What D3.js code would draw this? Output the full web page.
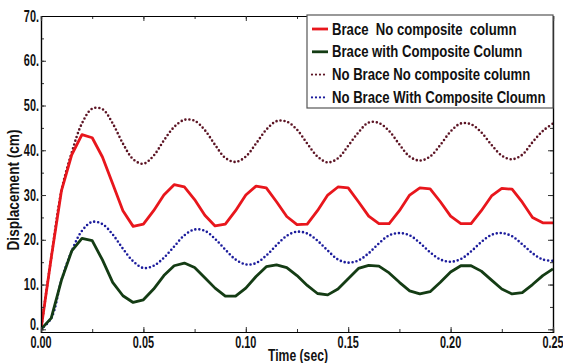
<!DOCTYPE html>
<html>
<head>
<meta charset="utf-8">
<script src="https://cdn.jsdelivr.net/npm/d3@7"></script>
<style>
  body { margin: 0; background: #fff; }
  svg { display: block; }
  text { font-family: "Liberation Sans", Arial, sans-serif; font-weight: bold; white-space: pre; }
</style>
</head>
<body>
<svg id="chart" width="563" height="363"></svg>
<script>
// time samples (sec), every 0.005
const times = d3.range(0, 51).map((i) => +(i * 0.005).toFixed(3));

const braceNoComposite = [0, 16, 31, 39, 43.5, 42.8, 38.5, 32.5, 26.5, 23, 23.5, 26.5, 30, 32.3, 31.8, 29, 25.5, 23.1, 23.5, 26.5, 30, 32, 31.6, 28.5, 25.2, 23.4, 23.5, 26.5, 30, 31.8, 31.6, 28.5, 25.3, 23.6, 23.6, 26.5, 30, 31.6, 31.4, 28.5, 25.3, 23.6, 23.6, 26.5, 29.8, 31.5, 31.3, 28.4, 25, 23.8, 23.8];
const braceComposite = [0, 2.5, 11, 17.5, 20.3, 19.8, 15.5, 10.5, 7.5, 6, 6.6, 9, 12, 14.2, 14.8, 13.8, 11.5, 9.2, 7.4, 7.4, 9.2, 11.8, 14, 14.4, 13.8, 12, 9.8, 8, 7.7, 9, 11.3, 13.6, 14.3, 14.1, 12.6, 10.5, 8.6, 7.9, 8.4, 10.5, 12.8, 14.2, 14.2, 13, 11, 9, 7.9, 8.2, 10, 12, 13.5];
const noBraceNoComposite = [0, 16, 31, 39.5, 46, 49.3, 49.2, 46, 41.5, 38, 37, 38.8, 42.2, 45.2, 46.8, 46.6, 44.5, 41.2, 38.3, 37.4, 38.6, 41.5, 44.6, 46.5, 46.4, 44.6, 41.5, 38.6, 37.3, 38.2, 41, 44, 46.2, 46.1, 44.3, 41.3, 38.6, 37.7, 38.6, 41.2, 44.2, 46, 45.8, 44, 41.2, 38.8, 38, 39, 41.8, 44.3, 46];
const noBraceComposite = [0, 2.5, 11, 17.5, 22, 24, 23.5, 21.2, 18, 15.2, 13.7, 14.2, 16, 18.5, 21, 22.3, 22, 20.2, 17.8, 15.6, 14.5, 14.8, 16.5, 18.8, 20.9, 21.8, 21.4, 19.8, 17.6, 15.6, 14.9, 15.4, 17, 19.2, 21, 21.5, 21, 19.3, 17.2, 15.6, 15.1, 15.7, 17.4, 19.5, 21.1, 21.5, 20.8, 19, 17, 15.6, 15.3];

const seriesNames = ['Brace  No composite  column', 'Brace with Composite Column', 'No Brace No composite column', 'No Brace With Composite Cloumn'];
const xTicks = [0, 0.05, 0.1, 0.15, 0.2, 0.25];
const yTicks = [0, 10, 20, 30, 40, 50, 60, 70];

// legend order follows seriesNames; draw order puts dotted lines underneath
const series = [
  { name: seriesNames[0], values: braceNoComposite, color: '#e8161c', dotted: false },
  { name: seriesNames[1], values: braceComposite, color: '#143c14', dotted: false },
  { name: seriesNames[2], values: noBraceNoComposite, color: '#5c1424', dotted: true },
  { name: seriesNames[3], values: noBraceComposite, color: '#1c1c9c', dotted: true }
];
const drawOrder = [2, 3, 0, 1];

const svg = d3.select('#chart');
const margin = { top: 16, right: 10, bottom: 31, left: 41 };
const width = 563, height = 363;
const innerW = width - margin.left - margin.right;
const innerH = height - margin.top - margin.bottom;

const x = d3.scaleLinear().domain([0, 0.25]).range([0, innerW]);
const y = d3.scaleLinear().domain([-0.6, 70]).range([innerH, 0]);

// squeeze bold text into a narrow look (no narrow font available)
function condense(sel, factor) {
  sel.each(function () {
    const w = this.getComputedTextLength();
    d3.select(this).attr('textLength', w * factor).attr('lengthAdjust', 'spacingAndGlyphs');
  });
}

const g = svg.append('g').attr('transform', `translate(${margin.left},${margin.top})`);

g.append('clipPath').attr('id', 'clip').append('rect')
  .attr('y', -2).attr('width', innerW).attr('height', innerH + 2);

const line = d3.line()
  .x((d, i) => x(times[i]))
  .y((d) => y(d));

const smooth = d3.line()
  .x((d, i) => x(times[i]))
  .y((d) => y(d))
  .curve(d3.curveCatmullRom);

g.append('g').attr('clip-path', 'url(#clip)')
  .selectAll('path')
  .data(drawOrder.map((k) => series[k]))
  .join('path')
  .attr('d', (d) => (d.dotted ? smooth(d.values) : line(d.values)))
  .attr('fill', 'none')
  .attr('stroke', (d) => d.color)
  .attr('stroke-width', (d) => (d.dotted ? 2.6 : 2.8))
  .attr('stroke-linecap', (d) => (d.dotted ? 'round' : 'butt'))
  .attr('stroke-linejoin', 'round')
  .attr('stroke-dasharray', (d) => (d.dotted ? '0,4' : null));

// frame + inward ticks
const yMinor = d3.range(0, 71, 5);
const xMinor = d3.range(0, 0.2501, 0.025);

function tickAxis(axis, tx, ty) {
  const a = g.append('g').attr('transform', `translate(${tx},${ty})`).call(axis);
  a.select('.domain').attr('stroke', '#000').attr('stroke-width', 1.2);
  a.selectAll('.tick line').attr('stroke', '#333');
  return a;
}

tickAxis(d3.axisLeft(y).tickValues(yMinor).tickSize(-3).tickFormat(''), 0, 0);
tickAxis(d3.axisRight(y).tickValues(yMinor).tickSize(-3).tickFormat(''), innerW, 0);
tickAxis(d3.axisBottom(x).tickValues(xMinor).tickSize(-3).tickFormat(''), 0, innerH);
tickAxis(d3.axisTop(x).tickValues(xMinor).tickSize(-3).tickFormat(''), 0, 0);
tickAxis(d3.axisLeft(y).tickValues(yTicks).tickSize(-5).tickFormat(''), 0, 0);
tickAxis(d3.axisRight(y).tickValues(yTicks).tickSize(-5).tickFormat(''), innerW, 0);
tickAxis(d3.axisBottom(x).tickValues(xTicks).tickSize(-5).tickFormat(''), 0, innerH);
tickAxis(d3.axisTop(x).tickValues(xTicks).tickSize(-5).tickFormat(''), 0, 0);

// tick labels
g.append('g').selectAll('text')
  .data(yTicks)
  .join('text')
  .attr('x', -2)
  .attr('y', (d) => Math.min(y(d), innerH - 8))
  .attr('dy', '0.35em')
  .attr('text-anchor', 'end')
  .attr('font-size', 16)
  .attr('fill', '#111')
  .text((d) => d3.format('d')(d) + '.')
  .call(condense, 0.68);

g.append('g').selectAll('text')
  .data(xTicks)
  .join('text')
  .attr('x', (d) => x(d))
  .attr('y', innerH + 16)
  .attr('text-anchor', 'middle')
  .attr('font-size', 16)
  .attr('fill', '#111')
  .text((d) => d3.format('.2f')(d))
  .call(condense, 0.68);

// axis titles
svg.append('text')
  .attr('transform', `translate(19,${margin.top + innerH / 2 + 16}) rotate(-90)`)
  .attr('text-anchor', 'middle')
  .attr('font-size', 17)
  .attr('fill', '#111')
  .text('Displacement (cm)')
  .call(condense, 0.8);

svg.append('text')
  .attr('x', 298)
  .attr('y', 361)
  .attr('text-anchor', 'middle')
  .attr('font-size', 16)
  .attr('fill', '#111')
  .text('Time (sec)')
  .call(condense, 0.76);

// legend
const legend = svg.append('g').attr('transform', 'translate(307,15)');
legend.append('rect')
  .attr('width', 246).attr('height', 93)
  .attr('fill', '#fff').attr('stroke', '#555').attr('stroke-width', 1.2);

const items = legend.selectAll('g.item')
  .data(series)
  .join('g')
  .attr('class', 'item')
  .attr('transform', (d, i) => `translate(0,${14 + i * 22.8})`);

items.append('line')
  .attr('x1', 5).attr('x2', 21)
  .attr('stroke', (d) => d.color)
  .attr('stroke-width', (d) => (d.dotted ? 2.2 : 2.8))
  .attr('stroke-linecap', (d) => (d.dotted ? 'round' : 'butt'))
  .attr('stroke-dasharray', (d) => (d.dotted ? '0,4' : null));

items.append('text')
  .attr('x', 25)
  .attr('dy', '0.35em')
  .attr('font-size', 16)
  .attr('fill', '#111')
  .text((d) => d.name)
  .call(condense, 0.82);
</script>
</body>
</html>
